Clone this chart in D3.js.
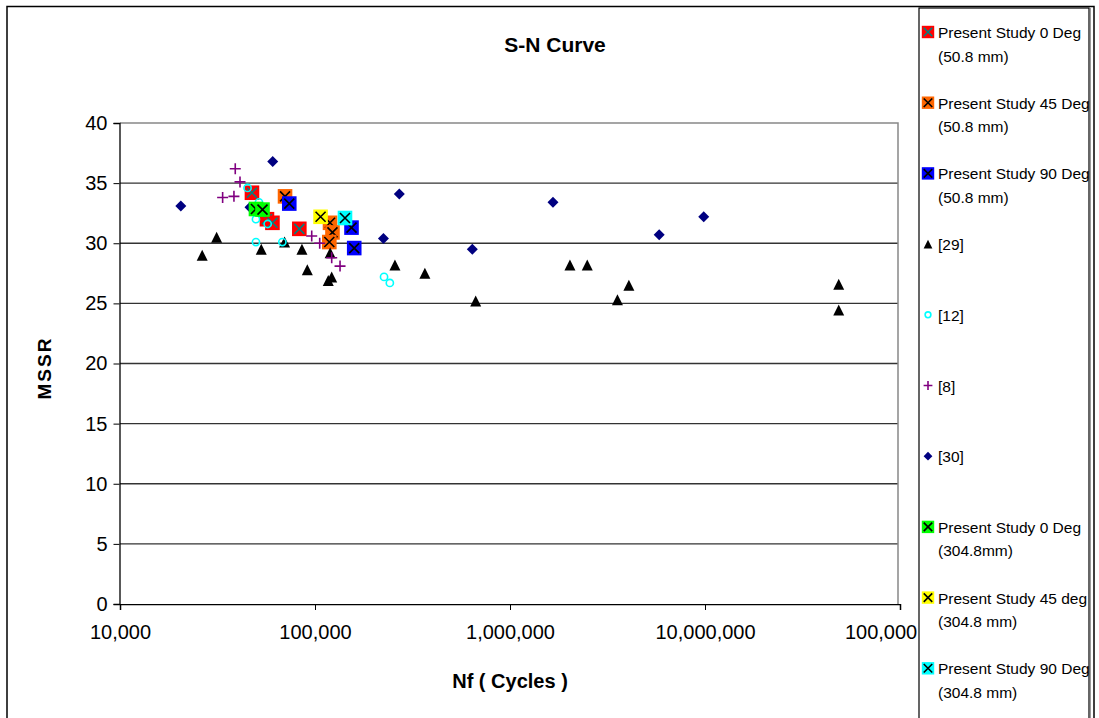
<!DOCTYPE html>
<html><head><meta charset="utf-8">
<script src="https://cdn.jsdelivr.net/npm/d3@7"></script>
<style>
body{margin:0;background:#fff;}
text{font-family:"Liberation Sans",Arial,sans-serif;}
</style>
</head><body>
<svg id="c" width="1099" height="718"></svg>
<script>
// ---------- data ----------
const xTickValues = [1e4, 1e5, 1e6, 1e7, 1e8];
const xTickLabels = ["10,000", "100,000", "1,000,000", "10,000,000", "100,000,000"];
const yTickValues = [0, 5, 10, 15, 20, 25, 30, 35, 40];

const ps0_50 = [[47500, 34.2], [56700, 32.0], [60500, 31.7], [83100, 31.2]];
const ps45_50 = [[70200, 33.9], [119400, 31.7], [122900, 30.9], [118400, 30.1]];
const ps90_50 = [[73800, 33.3], [153900, 31.3], [158900, 29.6]];
const ref29 = [[26400, 29.0], [31300, 30.5], [53000, 29.5], [69800, 30.1], [85700, 29.5],
  [91300, 27.8], [116900, 26.9], [121800, 27.2], [119600, 29.2], [257000, 28.2],
  [366000, 27.5], [667000, 25.2], [2030000, 28.2], [2490000, 28.2], [3555000, 25.3],
  [4070000, 26.5], [48500000, 26.6], [48500000, 24.45]];
const ref12 = [[45100, 34.6], [51600, 33.4], [49800, 32.0], [57200, 31.6], [49800, 30.1],
  [68000, 30.1], [226000, 27.2], [242000, 26.7]];
const ref8 = [[39000, 36.2], [41250, 35.1], [33600, 33.8], [38400, 33.9], [96200, 30.6],
  [105700, 30.0], [121800, 28.8], [134400, 28.1]];
const ref30 = [[20500, 33.1], [46400, 33.0], [60700, 36.8], [270600, 34.1], [224400, 30.4],
  [640800, 29.5], [1661000, 33.4], [5822000, 30.7], [9850000, 32.2]];
const ps0_304 = [[49800, 32.85], [53800, 32.8]];
const ps45_304 = [[106800, 32.2]];
const ps90_304 = [[142500, 32.1]];

const seriesNames = [
  ["Present Study 0 Deg", "(50.8 mm)"],
  ["Present Study 45 Deg", "(50.8 mm)"],
  ["Present Study 90 Deg", "(50.8 mm)"],
  ["[29]"], ["[12]"], ["[8]"], ["[30]"],
  ["Present Study 0 Deg", "(304.8mm)"],
  ["Present Study 45 deg", "(304.8 mm)"],
  ["Present Study 90 Deg", "(304.8 mm)"]
];
const seriesData = [ps0_50, ps45_50, ps90_50, ref29, ref12, ref8, ref30, ps0_304, ps45_304, ps90_304];

// ---------- styles ----------
const styles = [
  {type: "sq", fill: "#FF0000", x: "#008080"},
  {type: "sq", fill: "#FF6600", x: "#000000"},
  {type: "sq", fill: "#0000FF", x: "#000000"},
  {type: "tri", fill: "#000000"},
  {type: "circ", stroke: "#00FFFF"},
  {type: "plus", stroke: "#800080"},
  {type: "dia", fill: "#000080"},
  {type: "sq", fill: "#00FF00", x: "#000000"},
  {type: "sq", fill: "#FFFF00", x: "#000000"},
  {type: "sq", fill: "#00FFFF", x: "#000000"}
];

const svg = d3.select("#c");
const L = 120, R = 900, T = 123, B = 604;
const x = d3.scaleLog().domain([1e4, 1e8]).range([L, R]);
const y = d3.scaleLinear().domain([0, 40]).range([B, T]);

svg.append("defs").append("clipPath").attr("id", "clipx")
  .append("rect").attr("x", 0).attr("y", 0).attr("width", 918).attr("height", 718);

// outer chart border
svg.append("rect").attr("x", 7).attr("y", 6.5).attr("width", 1087).attr("height", 740)
  .attr("fill", "#fff").attr("stroke", "#000").attr("stroke-width", 1.5);

// gridlines
svg.append("g").selectAll("line").data(yTickValues.filter(v => v > 0 && v < 40)).join("line")
  .attr("x1", L).attr("x2", R - 2).attr("y1", d => y(d)).attr("y2", d => y(d))
  .attr("stroke", "#333").attr("stroke-width", 1.4);
// plot border top/right
svg.append("path").attr("d", `M${L},${T}H${R - 2}V${B}`).attr("fill", "none")
  .attr("stroke", "#888").attr("stroke-width", 1.5);

// y axis
const yAxis = d3.axisLeft(y).tickValues(yTickValues).tickSize(6).tickPadding(6).tickFormat(d3.format("d"));
const gy = svg.append("g").attr("transform", `translate(${L - 0.5},0)`).call(yAxis);
gy.select(".domain").attr("stroke", "#000").attr("stroke-width", 1.3);
gy.selectAll(".tick line").attr("stroke", "#000");
gy.selectAll(".tick text").attr("font-size", 20).attr("fill", "#000")
  .style("font-family", '"Liberation Sans",Arial,sans-serif');

// x axis
const xAxis = d3.axisBottom(x).tickValues(xTickValues).tickSize(6).tickPadding(15)
  .tickFormat((d, i) => xTickLabels[i]);
const gx = svg.append("g").attr("transform", `translate(0,${B})`).attr("clip-path", "url(#clipx)").call(xAxis);
gx.select(".domain").attr("stroke", "#000").attr("stroke-width", 1.5);
gx.selectAll(".tick line").attr("stroke", "#000");
gx.selectAll(".tick text").attr("font-size", 20).attr("fill", "#000")
  .style("font-family", '"Liberation Sans",Arial,sans-serif');

// markers
function drawMarker(g, st, cx, cy, scale) {
  const s = scale || 1;
  if (st.type === "sq") {
    const h = 7.3 * s, k = 5 * s;
    g.append("rect").attr("x", cx - h).attr("y", cy - h).attr("width", 2 * h).attr("height", 2 * h).attr("fill", st.fill);
    g.append("path").attr("d", `M${cx - k},${cy - k}L${cx + k},${cy + k}M${cx - k},${cy + k}L${cx + k},${cy - k}`)
      .attr("stroke", st.x).attr("stroke-width", 1.6).attr("fill", "none");
  } else if (st.type === "tri") {
    const w = 5.5 * s, hh = 5.5 * s;
    g.append("path").attr("d", `M${cx},${cy - hh}L${cx + w},${cy + hh}L${cx - w},${cy + hh}Z`).attr("fill", st.fill);
  } else if (st.type === "circ") {
    g.append("circle").attr("cx", cx).attr("cy", cy).attr("r", 3.6 * s).attr("fill", "none")
      .attr("stroke", st.stroke).attr("stroke-width", 1.6);
  } else if (st.type === "plus") {
    const k = 5.5 * s;
    g.append("path").attr("d", `M${cx - k},${cy}H${cx + k}M${cx},${cy - k}V${cy + k}`)
      .attr("stroke", st.stroke).attr("stroke-width", 1.6).attr("fill", "none");
  } else if (st.type === "dia") {
    const k = 5.5 * s;
    g.append("path").attr("d", `M${cx},${cy - k}L${cx + k},${cy}L${cx},${cy + k}L${cx - k},${cy}Z`).attr("fill", st.fill);
  }
}

const gm = svg.append("g");
seriesData.forEach((arr, i) => {
  const gs = gm.append("g");
  arr.forEach(d => drawMarker(gs, styles[i], x(d[0]), y(d[1])));
});

// titles
svg.append("text").attr("x", 555).attr("y", 52).attr("text-anchor", "middle")
  .attr("font-size", 21).attr("font-weight", "bold").text("S-N Curve");
svg.append("text").attr("x", 510).attr("y", 688).attr("text-anchor", "middle")
  .attr("font-size", 20).attr("font-weight", "bold").text("Nf ( Cycles )");
svg.append("text").attr("transform", "translate(51,368) rotate(-90)").attr("text-anchor", "middle")
  .attr("font-size", 19).attr("font-weight", "bold").attr("letter-spacing", 2).text("MSSR");

// legend
const lg = svg.append("g");
lg.append("rect").attr("x", 919).attr("y", 8).attr("width", 170).attr("height", 740)
  .attr("fill", "#fff").attr("stroke", "#000").attr("stroke-width", 1.2);
lg.append("line").attr("x1", 1090.5).attr("x2", 1090.5).attr("y1", 8).attr("y2", 718)
  .attr("stroke", "#999").attr("stroke-width", 1);
seriesNames.forEach((lines, i) => {
  const cy = 32 + i * 70.7;
  drawMarker(lg, styles[i], 928, cy, i < 3 || i > 6 ? 0.85 : 0.8);
  lines.forEach((t, j) => {
    lg.append("text").attr("x", 938).attr("y", cy + 6 + j * 23.5)
      .attr("font-size", 15.5).attr("fill", "#000").text(t);
  });
});
</script>
</body></html>
